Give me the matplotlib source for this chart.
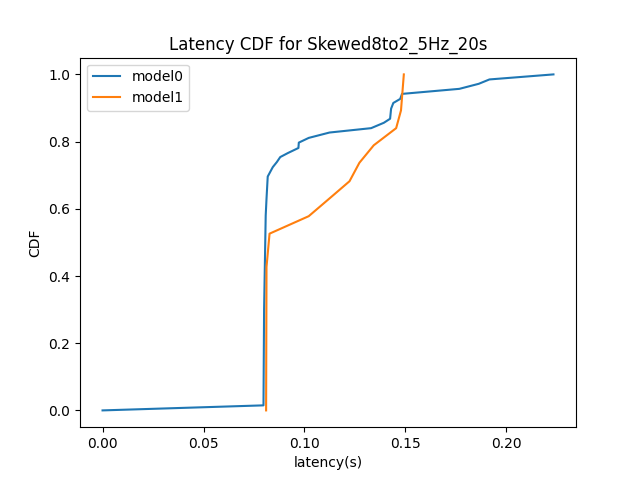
import matplotlib
matplotlib.use("Agg")
import matplotlib.pyplot as plt

# latency CDF points
model0_latency = [0.0, 0.0797, 0.0800, 0.0808, 0.0812, 0.0818, 0.0843, 0.0863, 0.0880,
                  0.0918, 0.0970, 0.0972, 0.1021, 0.1124, 0.1330, 0.1393, 0.1424,
                  0.1429, 0.1440, 0.1474, 0.1483, 0.1767, 0.1863, 0.1916, 0.2233]
model0_cdf = [0.0, 0.015, 0.30, 0.58, 0.63, 0.696, 0.724, 0.739, 0.754,
              0.766, 0.781, 0.797, 0.811, 0.827, 0.840, 0.856, 0.868,
              0.898, 0.915, 0.927, 0.942, 0.957, 0.972, 0.985, 1.0]

model1_latency = [0.0810, 0.0812, 0.0827, 0.1021, 0.1132, 0.1223, 0.1272, 0.1343,
                  0.1454, 0.1478, 0.1492]
model1_cdf = [0.0, 0.427, 0.526, 0.578, 0.635, 0.682, 0.737, 0.789,
              0.840, 0.893, 1.0]

plt.figure(figsize=(6.4, 4.8), dpi=100)
plt.plot(model0_latency, model0_cdf, label="model0")
plt.plot(model1_latency, model1_cdf, label="model1")
plt.title("Latency CDF for Skewed8to2_5Hz_20s")
plt.xlabel("latency(s)")
plt.ylabel("CDF")
plt.legend(loc="upper left")
plt.savefig("out.png")
